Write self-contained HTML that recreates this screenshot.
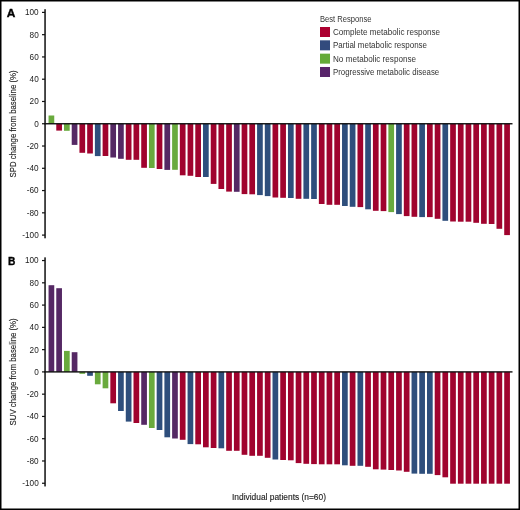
<!DOCTYPE html>
<html><head><meta charset="utf-8">
<style>
html,body{margin:0;padding:0;background:#fff;}
body{width:520px;height:510px;overflow:hidden;}
svg{display:block;}
text{font-family:"Liberation Sans",sans-serif;fill:#2a2a2a;}
.tk{font-size:8.2px;fill:#222;}
.lg{font-size:8.6px;fill:#333;}
.pl{font-size:11px;font-weight:bold;fill:#000;stroke:#000;stroke-width:0.35px;}
.al{font-size:9.8px;fill:#1e1e1e;stroke:#1e1e1e;stroke-width:0.15px;}
</style></head>
<body>
<svg width="520" height="510" viewBox="0 0 520 510">
<defs><filter id="gs" x="0" y="0" width="520" height="510" filterUnits="userSpaceOnUse"><feColorMatrix type="saturate" values="0"/></filter></defs>
<rect x="0" y="0" width="520" height="510" fill="#fff"/>
<rect x="48.55" y="115.50" width="5.7" height="8.25" fill="#69aa3d"/>
<rect x="56.27" y="123.75" width="5.7" height="6.85" fill="#a0032e"/>
<rect x="64.00" y="123.75" width="5.7" height="7.05" fill="#69aa3d"/>
<rect x="71.72" y="123.75" width="5.7" height="21.15" fill="#552864"/>
<rect x="79.44" y="123.75" width="5.7" height="29.05" fill="#a0032e"/>
<rect x="87.17" y="123.75" width="5.7" height="29.75" fill="#a0032e"/>
<rect x="94.89" y="123.75" width="5.7" height="32.35" fill="#2e4e7c"/>
<rect x="102.61" y="123.75" width="5.7" height="32.25" fill="#a0032e"/>
<rect x="110.34" y="123.75" width="5.7" height="33.75" fill="#552864"/>
<rect x="118.06" y="123.75" width="5.7" height="35.05" fill="#552864"/>
<rect x="125.78" y="123.75" width="5.7" height="36.05" fill="#a0032e"/>
<rect x="133.51" y="123.75" width="5.7" height="36.05" fill="#a0032e"/>
<rect x="141.23" y="123.75" width="5.7" height="44.05" fill="#a0032e"/>
<rect x="148.95" y="123.75" width="5.7" height="44.25" fill="#69aa3d"/>
<rect x="156.67" y="123.75" width="5.7" height="45.25" fill="#a0032e"/>
<rect x="164.40" y="123.75" width="5.7" height="46.15" fill="#552864"/>
<rect x="172.12" y="123.75" width="5.7" height="46.05" fill="#69aa3d"/>
<rect x="179.84" y="123.75" width="5.7" height="51.55" fill="#a0032e"/>
<rect x="187.57" y="123.75" width="5.7" height="52.05" fill="#a0032e"/>
<rect x="195.29" y="123.75" width="5.7" height="53.25" fill="#a0032e"/>
<rect x="203.01" y="123.75" width="5.7" height="53.25" fill="#2e4e7c"/>
<rect x="210.74" y="123.75" width="5.7" height="60.15" fill="#a0032e"/>
<rect x="218.46" y="123.75" width="5.7" height="65.25" fill="#a0032e"/>
<rect x="226.18" y="123.75" width="5.7" height="67.85" fill="#a0032e"/>
<rect x="233.91" y="123.75" width="5.7" height="68.05" fill="#552864"/>
<rect x="241.63" y="123.75" width="5.7" height="70.35" fill="#a0032e"/>
<rect x="249.35" y="123.75" width="5.7" height="70.55" fill="#a0032e"/>
<rect x="257.08" y="123.75" width="5.7" height="71.35" fill="#2e4e7c"/>
<rect x="264.80" y="123.75" width="5.7" height="72.35" fill="#2e4e7c"/>
<rect x="272.52" y="123.75" width="5.7" height="73.75" fill="#a0032e"/>
<rect x="280.25" y="123.75" width="5.7" height="74.05" fill="#a0032e"/>
<rect x="287.97" y="123.75" width="5.7" height="74.25" fill="#2e4e7c"/>
<rect x="295.69" y="123.75" width="5.7" height="75.05" fill="#a0032e"/>
<rect x="303.42" y="123.75" width="5.7" height="75.05" fill="#2e4e7c"/>
<rect x="311.14" y="123.75" width="5.7" height="75.25" fill="#2e4e7c"/>
<rect x="318.86" y="123.75" width="5.7" height="80.25" fill="#a0032e"/>
<rect x="326.59" y="123.75" width="5.7" height="81.05" fill="#a0032e"/>
<rect x="334.31" y="123.75" width="5.7" height="81.05" fill="#a0032e"/>
<rect x="342.03" y="123.75" width="5.7" height="82.25" fill="#2e4e7c"/>
<rect x="349.75" y="123.75" width="5.7" height="83.05" fill="#2e4e7c"/>
<rect x="357.48" y="123.75" width="5.7" height="83.35" fill="#a0032e"/>
<rect x="365.20" y="123.75" width="5.7" height="85.55" fill="#2e4e7c"/>
<rect x="372.92" y="123.75" width="5.7" height="87.05" fill="#a0032e"/>
<rect x="380.65" y="123.75" width="5.7" height="87.35" fill="#a0032e"/>
<rect x="388.37" y="123.75" width="5.7" height="88.35" fill="#69aa3d"/>
<rect x="396.09" y="123.75" width="5.7" height="90.35" fill="#2e4e7c"/>
<rect x="403.82" y="123.75" width="5.7" height="92.35" fill="#a0032e"/>
<rect x="411.54" y="123.75" width="5.7" height="93.05" fill="#a0032e"/>
<rect x="419.26" y="123.75" width="5.7" height="93.35" fill="#2e4e7c"/>
<rect x="426.99" y="123.75" width="5.7" height="93.35" fill="#a0032e"/>
<rect x="434.71" y="123.75" width="5.7" height="95.05" fill="#a0032e"/>
<rect x="442.43" y="123.75" width="5.7" height="97.05" fill="#2e4e7c"/>
<rect x="450.16" y="123.75" width="5.7" height="97.75" fill="#a0032e"/>
<rect x="457.88" y="123.75" width="5.7" height="97.95" fill="#a0032e"/>
<rect x="465.60" y="123.75" width="5.7" height="97.95" fill="#a0032e"/>
<rect x="473.33" y="123.75" width="5.7" height="99.05" fill="#a0032e"/>
<rect x="481.05" y="123.75" width="5.7" height="100.05" fill="#a0032e"/>
<rect x="488.77" y="123.75" width="5.7" height="100.25" fill="#a0032e"/>
<rect x="496.50" y="123.75" width="5.7" height="105.05" fill="#a0032e"/>
<rect x="504.22" y="123.75" width="5.7" height="111.35" fill="#a0032e"/>
<rect x="48.55" y="285.20" width="5.7" height="86.70" fill="#552864"/>
<rect x="56.27" y="288.20" width="5.7" height="83.70" fill="#552864"/>
<rect x="64.00" y="350.90" width="5.7" height="21.00" fill="#69aa3d"/>
<rect x="71.72" y="352.20" width="5.7" height="19.70" fill="#552864"/>
<rect x="79.44" y="371.90" width="5.7" height="1.90" fill="#69aa3d"/>
<rect x="87.17" y="371.90" width="5.7" height="3.90" fill="#2e4e7c"/>
<rect x="94.89" y="371.90" width="5.7" height="12.40" fill="#69aa3d"/>
<rect x="102.61" y="371.90" width="5.7" height="16.40" fill="#69aa3d"/>
<rect x="110.34" y="371.90" width="5.7" height="31.40" fill="#a0032e"/>
<rect x="118.06" y="371.90" width="5.7" height="39.10" fill="#2e4e7c"/>
<rect x="125.78" y="371.90" width="5.7" height="49.70" fill="#2e4e7c"/>
<rect x="133.51" y="371.90" width="5.7" height="51.10" fill="#a0032e"/>
<rect x="141.23" y="371.90" width="5.7" height="52.90" fill="#552864"/>
<rect x="148.95" y="371.90" width="5.7" height="56.10" fill="#69aa3d"/>
<rect x="156.67" y="371.90" width="5.7" height="58.10" fill="#2e4e7c"/>
<rect x="164.40" y="371.90" width="5.7" height="65.40" fill="#2e4e7c"/>
<rect x="172.12" y="371.90" width="5.7" height="66.60" fill="#552864"/>
<rect x="179.84" y="371.90" width="5.7" height="67.90" fill="#a0032e"/>
<rect x="187.57" y="371.90" width="5.7" height="72.20" fill="#2e4e7c"/>
<rect x="195.29" y="371.90" width="5.7" height="72.40" fill="#a0032e"/>
<rect x="203.01" y="371.90" width="5.7" height="75.40" fill="#a0032e"/>
<rect x="210.74" y="371.90" width="5.7" height="76.10" fill="#a0032e"/>
<rect x="218.46" y="371.90" width="5.7" height="76.40" fill="#2e4e7c"/>
<rect x="226.18" y="371.90" width="5.7" height="78.90" fill="#a0032e"/>
<rect x="233.91" y="371.90" width="5.7" height="78.90" fill="#a0032e"/>
<rect x="241.63" y="371.90" width="5.7" height="82.90" fill="#a0032e"/>
<rect x="249.35" y="371.90" width="5.7" height="83.90" fill="#a0032e"/>
<rect x="257.08" y="371.90" width="5.7" height="83.90" fill="#a0032e"/>
<rect x="264.80" y="371.90" width="5.7" height="85.90" fill="#a0032e"/>
<rect x="272.52" y="371.90" width="5.7" height="87.60" fill="#2e4e7c"/>
<rect x="280.25" y="371.90" width="5.7" height="88.10" fill="#a0032e"/>
<rect x="287.97" y="371.90" width="5.7" height="88.40" fill="#a0032e"/>
<rect x="295.69" y="371.90" width="5.7" height="91.20" fill="#a0032e"/>
<rect x="303.42" y="371.90" width="5.7" height="91.90" fill="#a0032e"/>
<rect x="311.14" y="371.90" width="5.7" height="92.20" fill="#a0032e"/>
<rect x="318.86" y="371.90" width="5.7" height="92.40" fill="#a0032e"/>
<rect x="326.59" y="371.90" width="5.7" height="92.40" fill="#a0032e"/>
<rect x="334.31" y="371.90" width="5.7" height="92.40" fill="#a0032e"/>
<rect x="342.03" y="371.90" width="5.7" height="93.40" fill="#2e4e7c"/>
<rect x="349.75" y="371.90" width="5.7" height="93.90" fill="#a0032e"/>
<rect x="357.48" y="371.90" width="5.7" height="93.90" fill="#2e4e7c"/>
<rect x="365.20" y="371.90" width="5.7" height="94.90" fill="#a0032e"/>
<rect x="372.92" y="371.90" width="5.7" height="97.40" fill="#a0032e"/>
<rect x="380.65" y="371.90" width="5.7" height="97.70" fill="#a0032e"/>
<rect x="388.37" y="371.90" width="5.7" height="98.10" fill="#a0032e"/>
<rect x="396.09" y="371.90" width="5.7" height="98.60" fill="#a0032e"/>
<rect x="403.82" y="371.90" width="5.7" height="99.90" fill="#a0032e"/>
<rect x="411.54" y="371.90" width="5.7" height="101.70" fill="#2e4e7c"/>
<rect x="419.26" y="371.90" width="5.7" height="101.90" fill="#2e4e7c"/>
<rect x="426.99" y="371.90" width="5.7" height="101.90" fill="#2e4e7c"/>
<rect x="434.71" y="371.90" width="5.7" height="103.20" fill="#a0032e"/>
<rect x="442.43" y="371.90" width="5.7" height="105.40" fill="#a0032e"/>
<rect x="450.16" y="371.90" width="5.7" height="111.80" fill="#a0032e"/>
<rect x="457.88" y="371.90" width="5.7" height="111.80" fill="#a0032e"/>
<rect x="465.60" y="371.90" width="5.7" height="111.80" fill="#a0032e"/>
<rect x="473.33" y="371.90" width="5.7" height="111.80" fill="#a0032e"/>
<rect x="481.05" y="371.90" width="5.7" height="111.80" fill="#a0032e"/>
<rect x="488.77" y="371.90" width="5.7" height="111.80" fill="#a0032e"/>
<rect x="496.50" y="371.90" width="5.7" height="111.80" fill="#a0032e"/>
<rect x="504.22" y="371.90" width="5.7" height="111.80" fill="#a0032e"/>
<rect x="44.3" y="9.20" width="1.5" height="229.10" fill="#111"/>
<rect x="44.3" y="123.05" width="468.20" height="1.4" fill="#111"/>
<rect x="42" y="11.80" width="3" height="1.2" fill="#111"/>
<rect x="42" y="34.07" width="3" height="1.2" fill="#111"/>
<rect x="42" y="56.34" width="3" height="1.2" fill="#111"/>
<rect x="42" y="78.61" width="3" height="1.2" fill="#111"/>
<rect x="42" y="100.88" width="3" height="1.2" fill="#111"/>
<rect x="42" y="123.15" width="3" height="1.2" fill="#111"/>
<rect x="42" y="145.42" width="3" height="1.2" fill="#111"/>
<rect x="42" y="167.69" width="3" height="1.2" fill="#111"/>
<rect x="42" y="189.96" width="3" height="1.2" fill="#111"/>
<rect x="42" y="212.23" width="3" height="1.2" fill="#111"/>
<rect x="42" y="234.50" width="3" height="1.2" fill="#111"/>
<rect x="44.3" y="257.35" width="1.5" height="229.10" fill="#111"/>
<rect x="44.3" y="371.20" width="468.20" height="1.4" fill="#111"/>
<rect x="42" y="259.95" width="3" height="1.2" fill="#111"/>
<rect x="42" y="282.22" width="3" height="1.2" fill="#111"/>
<rect x="42" y="304.49" width="3" height="1.2" fill="#111"/>
<rect x="42" y="326.76" width="3" height="1.2" fill="#111"/>
<rect x="42" y="349.03" width="3" height="1.2" fill="#111"/>
<rect x="42" y="371.30" width="3" height="1.2" fill="#111"/>
<rect x="42" y="393.57" width="3" height="1.2" fill="#111"/>
<rect x="42" y="415.84" width="3" height="1.2" fill="#111"/>
<rect x="42" y="438.11" width="3" height="1.2" fill="#111"/>
<rect x="42" y="460.38" width="3" height="1.2" fill="#111"/>
<rect x="42" y="482.65" width="3" height="1.2" fill="#111"/>
<rect x="320" y="27.00" width="10" height="10" fill="#ac0030"/>
<rect x="320" y="40.33" width="10" height="10" fill="#324b7d"/>
<rect x="320" y="53.66" width="10" height="10" fill="#64aa38"/>
<rect x="320" y="66.99" width="10" height="10" fill="#58246a"/>
<g filter="url(#gs)">
<text x="38.7" y="15.30" class="tk" text-anchor="end">100</text>
<text x="38.7" y="37.57" class="tk" text-anchor="end">80</text>
<text x="38.7" y="59.84" class="tk" text-anchor="end">60</text>
<text x="38.7" y="82.11" class="tk" text-anchor="end">40</text>
<text x="38.7" y="104.38" class="tk" text-anchor="end">20</text>
<text x="38.7" y="126.65" class="tk" text-anchor="end">0</text>
<text x="38.7" y="148.92" class="tk" text-anchor="end">-20</text>
<text x="38.7" y="171.19" class="tk" text-anchor="end">-40</text>
<text x="38.7" y="193.46" class="tk" text-anchor="end">-60</text>
<text x="38.7" y="215.73" class="tk" text-anchor="end">-80</text>
<text x="38.7" y="238.00" class="tk" text-anchor="end">-100</text>
<text x="38.7" y="263.45" class="tk" text-anchor="end">100</text>
<text x="38.7" y="285.72" class="tk" text-anchor="end">80</text>
<text x="38.7" y="307.99" class="tk" text-anchor="end">60</text>
<text x="38.7" y="330.26" class="tk" text-anchor="end">40</text>
<text x="38.7" y="352.53" class="tk" text-anchor="end">20</text>
<text x="38.7" y="374.80" class="tk" text-anchor="end">0</text>
<text x="38.7" y="397.07" class="tk" text-anchor="end">-20</text>
<text x="38.7" y="419.34" class="tk" text-anchor="end">-40</text>
<text x="38.7" y="441.61" class="tk" text-anchor="end">-60</text>
<text x="38.7" y="463.88" class="tk" text-anchor="end">-80</text>
<text x="38.7" y="486.15" class="tk" text-anchor="end">-100</text>
<text x="6.7" y="17.4" class="pl" textLength="8.6" lengthAdjust="spacingAndGlyphs">A</text>
<text x="8.0" y="264.6" class="pl" textLength="7.4" lengthAdjust="spacingAndGlyphs">B</text>
<text transform="translate(16.2,177.5) rotate(-90)" class="al" textLength="107" lengthAdjust="spacingAndGlyphs">SPD change from baseline (%)</text>
<text transform="translate(16.2,425.4) rotate(-90)" class="al" textLength="107" lengthAdjust="spacingAndGlyphs">SUV change from baseline (%)</text>
<text x="232" y="500.3" class="al" style="font-size:9.6px" textLength="94" lengthAdjust="spacingAndGlyphs">Individual patients (n=60)</text>
<text x="320" y="22.4" class="lg" textLength="51.5" lengthAdjust="spacingAndGlyphs">Best Response</text>
<text x="333" y="34.90" class="lg" textLength="107" lengthAdjust="spacingAndGlyphs">Complete metabolic response</text>
<text x="333" y="48.23" class="lg" textLength="94" lengthAdjust="spacingAndGlyphs">Partial metabolic response</text>
<text x="333" y="61.56" class="lg" textLength="83" lengthAdjust="spacingAndGlyphs">No metabolic response</text>
<text x="333" y="74.89" class="lg" textLength="106.2" lengthAdjust="spacingAndGlyphs">Progressive metabolic disease</text>
</g>
<rect x="0" y="0" width="520" height="1.5" fill="#000"/>
<rect x="0" y="508.5" width="520" height="1.5" fill="#000"/>
<rect x="0" y="0" width="1.5" height="510" fill="#000"/>
<rect x="518.5" y="0" width="1.5" height="510" fill="#000"/>
</svg>
</body></html>
